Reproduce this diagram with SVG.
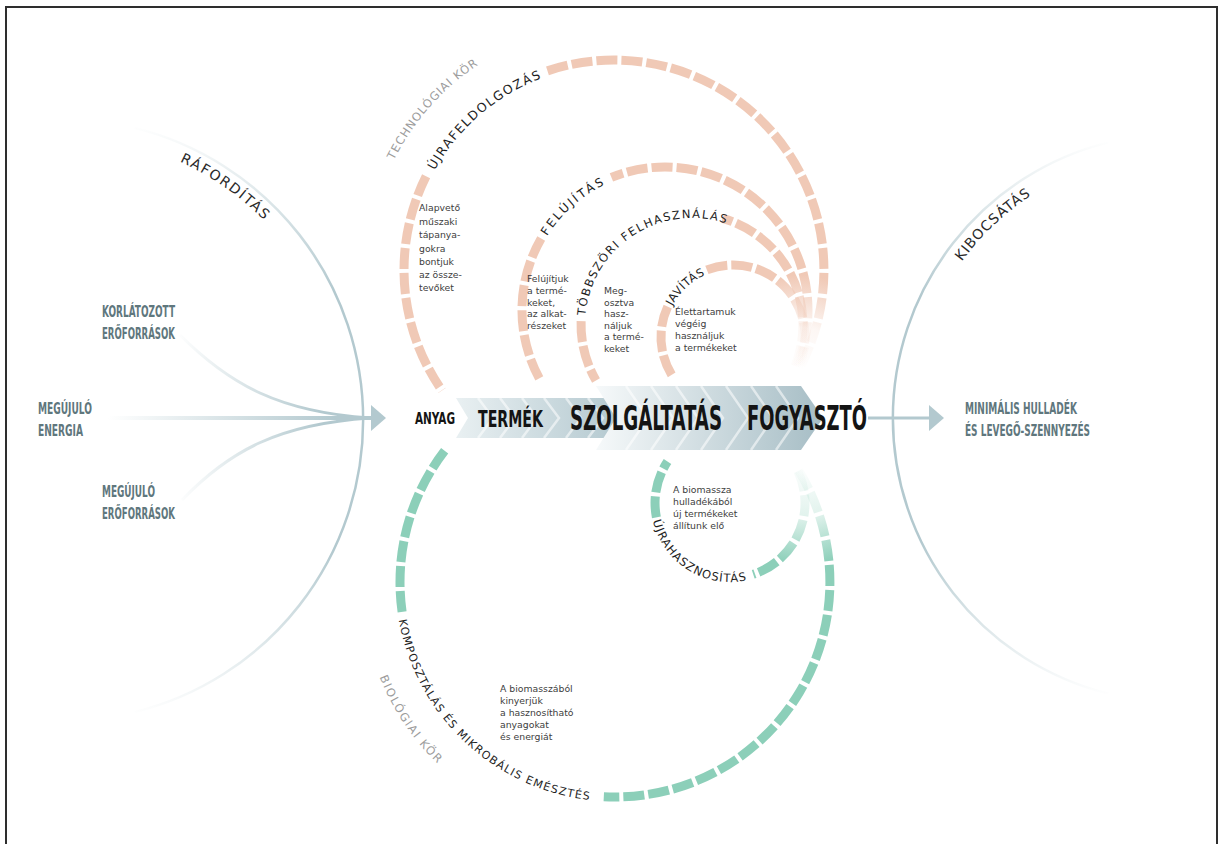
<svg xmlns="http://www.w3.org/2000/svg" width="1220" height="844" viewBox="0 0 1220 844">
<defs>
<style>
.cond{font-family:"DejaVu Sans Condensed","DejaVu Sans","Liberation Sans",sans-serif;font-weight:bold;}
.side{fill:#5f777d;font-size:15.5px;}
.main{fill:#141414;}
.arclbl{font-family:"DejaVu Sans","Liberation Sans",sans-serif;fill:#1e1e1e;}
.cyclbl{font-family:"DejaVu Sans","Liberation Sans",sans-serif;fill:#9c9c9c;font-size:11.5px;}
.iolbl{font-family:"DejaVu Sans","Liberation Sans",sans-serif;fill:#2a2a2a;font-size:14px;}
.desc{font-family:"DejaVu Sans","Liberation Sans",sans-serif;font-size:9.3px;fill:#404040;}
.tech{fill:none;stroke:url(#techFade);stroke-width:9;stroke-dasharray:21 4;}
.bio{fill:none;stroke:url(#bioFade);stroke-width:9;stroke-dasharray:21 4;}
.stripe{fill:none;stroke:#ffffff;stroke-width:2.5;stroke-opacity:0.55;}
</style>
<radialGradient id="techFade" gradientUnits="userSpaceOnUse" cx="800" cy="370" r="95">
<stop offset="0" stop-color="#f0c9b6" stop-opacity="0"/>
<stop offset="0.45" stop-color="#f0c9b6" stop-opacity="0.15"/>
<stop offset="1" stop-color="#f0c9b6" stop-opacity="1"/>
</radialGradient>
<radialGradient id="bioFade" gradientUnits="userSpaceOnUse" cx="805" cy="465" r="100">
<stop offset="0" stop-color="#8ccfb9" stop-opacity="0"/>
<stop offset="0.5" stop-color="#8ccfb9" stop-opacity="0.25"/>
<stop offset="1" stop-color="#8ccfb9" stop-opacity="1"/>
</radialGradient>
<linearGradient id="leftArcFade" gradientUnits="userSpaceOnUse" x1="0" y1="125" x2="0" y2="715">
<stop offset="0" stop-color="#b3c9cf" stop-opacity="0"/>
<stop offset="0.28" stop-color="#b3c9cf" stop-opacity="1"/>
<stop offset="0.72" stop-color="#b3c9cf" stop-opacity="1"/>
<stop offset="1" stop-color="#b3c9cf" stop-opacity="0"/>
</linearGradient>
<linearGradient id="rightArcFade" gradientUnits="userSpaceOnUse" x1="0" y1="140" x2="0" y2="696">
<stop offset="0" stop-color="#b3c9cf" stop-opacity="0"/>
<stop offset="0.28" stop-color="#b3c9cf" stop-opacity="1"/>
<stop offset="0.72" stop-color="#b3c9cf" stop-opacity="1"/>
<stop offset="1" stop-color="#b3c9cf" stop-opacity="0"/>
</linearGradient>
<linearGradient id="midFade" gradientUnits="userSpaceOnUse" x1="108" y1="0" x2="335" y2="0">
<stop offset="0" stop-color="#b3c9cf" stop-opacity="0"/>
<stop offset="1" stop-color="#b3c9cf" stop-opacity="1"/>
</linearGradient>
<linearGradient id="curveFade" gradientUnits="userSpaceOnUse" x1="176" y1="0" x2="320" y2="0">
<stop offset="0" stop-color="#b3c9cf" stop-opacity="0"/>
<stop offset="1" stop-color="#b3c9cf" stop-opacity="1"/>
</linearGradient>
<linearGradient id="barB" gradientUnits="userSpaceOnUse" x1="456" y1="0" x2="621" y2="0">
<stop offset="0" stop-color="#e9f0f2"/>
<stop offset="1" stop-color="#b3c8cf"/>
</linearGradient>
<linearGradient id="barC" gradientUnits="userSpaceOnUse" x1="596" y1="0" x2="823" y2="0">
<stop offset="0" stop-color="#f6f9fa"/>
<stop offset="1" stop-color="#a6bdc5"/>
</linearGradient>
<clipPath id="clipB"><polygon points="456,398 606,398 621,418 606,438 456,438 468,418"/></clipPath>
<clipPath id="clipC"><polygon points="596,386 801,386 823,418 801,450 596,450 616,418"/></clipPath>
<path id="tpRaf" d="M179.8,161.6 A284,284 0 0 1 319.4,300"/>
<path id="tpKib" d="M961.8,261.6 A266,266 0 0 1 1086,168"/>
<path id="tpTechKor" d="M393.9,160.2 A246,246 0 0 1 538,36"/>
<path id="tpUjra" d="M434.7,170.6 A205,205 0 0 1 578.4,68.1"/>
<path id="tpFel" d="M547.1,236.3 A139,139 0 0 1 640.9,173.1"/>
<path id="tpTobb" d="M585.4,315.7 A107,107 0 0 1 745.5,232.3"/>
<path id="tpJav" d="M672.4,306.1 A68,68 0 0 1 727.1,269.3"/>
<path id="tpKomp" d="M398.8,620.1 A219.5,219.5 0 0 0 634.1,800.7"/>
<path id="tpBioKor" d="M379.5,677.1 A254,254 0 0 0 488,802"/>
<path id="tpUjrah" d="M653,520.8 A79,79 0 0 0 790.5,553.8"/>
</defs>

<rect x="0" y="0" width="1220" height="844" fill="#ffffff"/>
<path d="M6,844 V7 H1217 V844" fill="none" stroke="#2e2e2e" stroke-width="2"/>

<g id="connectors">
  <path d="M134.8,127.9 A301,301 0 0 1 134.8,712.1" fill="none" stroke="url(#leftArcFade)" stroke-width="2.5"/>
  <path d="M1108.3,142.4 A284,284 0 0 0 1108.3,693.6" fill="none" stroke="url(#rightArcFade)" stroke-width="2.5"/>
  <path d="M108,418 H373" fill="none" stroke="url(#midFade)" stroke-width="4"/>
  <path d="M180,335 C230,385 280,412 370,418" fill="none" stroke="url(#curveFade)" stroke-width="3"/>
  <path d="M182,500 C230,450 280,424 370,418" fill="none" stroke="url(#curveFade)" stroke-width="3"/>
  <polygon points="371,405 386,418 371,431" fill="#b3c9cf"/>
  <path d="M868,418 H931" fill="none" stroke="#b3c9cf" stroke-width="3"/>
  <polygon points="929,405 944,418 929,431" fill="#b3c9cf"/>
  <path class="tech" d="M801.1,365.3 A210,210 0 0 0 543.9,72.1"/>
  <path class="tech" d="M426.1,176.3 A210,210 0 0 0 442,390.5"/>
  <path class="tech" d="M796.3,366.6 A143,143 0 0 0 611.4,177.4"/>
  <path class="tech" d="M541.2,238.5 A143,143 0 0 0 539.5,378.7"/>
  <path class="tech" d="M795.1,366.1 A111,111 0 0 0 722.6,218.3"/>
  <path class="tech" d="M581.1,321.1 A111,111 0 0 0 596,380.5"/>
  <path class="tech" d="M798.4,367.2 A72,72 0 0 0 706,270.2"/>
  <path class="tech" d="M667.7,306.6 A72,72 0 0 0 673.3,377.3"/>
  <path class="bio" d="M798.8,470.6 A215,215 0 0 1 603.8,796.7"/>
  <path class="bio" d="M402.1,611.9 A215,215 0 0 1 445.6,449.6"/>
  <path class="bio" d="M797.9,471.1 A75,75 0 0 1 753.2,574.3"/>
  <path class="bio" d="M656.4,517.3 A75,75 0 0 1 667.5,461.6"/>
</g>

<g id="flow-bar">
  <polygon points="456,398 606,398 621,418 606,438 456,438 468,418" fill="url(#barB)"/>
  <g clip-path="url(#clipB)">
    <polyline class="stripe" points="478,398 493,418 478,438"/>
    <polyline class="stripe" points="500,398 515,418 500,438"/>
    <polyline class="stripe" points="522,398 537,418 522,438"/>
    <polyline class="stripe" points="544,398 559,418 544,438"/>
    <polyline class="stripe" points="566,398 581,418 566,438"/>
    <polyline class="stripe" points="588,398 603,418 588,438"/>
  </g>
  <polygon points="596,386 801,386 823,418 801,450 596,450 616,418" fill="url(#barC)"/>
  <g clip-path="url(#clipC)">
    <polyline class="stripe" points="626,386 648,418 626,450"/>
    <polyline class="stripe" points="651,386 673,418 651,450"/>
    <polyline class="stripe" points="676,386 698,418 676,450"/>
    <polyline class="stripe" points="701,386 723,418 701,450"/>
    <polyline class="stripe" points="726,386 748,418 726,450"/>
    <polyline class="stripe" points="751,386 773,418 751,450"/>
    <polyline class="stripe" points="776,386 798,418 776,450"/>
  </g>
</g>

<g id="node-anyag"><text class="cond main" x="415" y="424" font-size="16" textLength="40" lengthAdjust="spacingAndGlyphs">ANYAG</text></g>
<g id="node-termek"><text class="cond main" x="478" y="427" font-size="23" textLength="65" lengthAdjust="spacingAndGlyphs">TERMÉK</text></g>
<g id="node-szolgaltatas"><text class="cond main" x="570" y="430" font-size="33" textLength="152" lengthAdjust="spacingAndGlyphs">SZOLGÁLTATÁS</text></g>
<g id="node-fogyaszto"><text class="cond main" x="747" y="430" font-size="33" textLength="120" lengthAdjust="spacingAndGlyphs">FOGYASZTÓ</text></g>

<g id="node-raforditas">
  <text class="iolbl" letter-spacing="1.6"><textPath href="#tpRaf">RÁFORDÍTÁS</textPath></text>
</g>
<g id="node-korlatozott">
  <text class="cond side" x="102" y="317" textLength="73" lengthAdjust="spacingAndGlyphs">KORLÁTOZOTT</text>
  <text class="cond side" x="102" y="339" textLength="73" lengthAdjust="spacingAndGlyphs">ERŐFORRÁSOK</text>
</g>
<g id="node-megujulo-energia">
  <text class="cond side" x="38" y="414" textLength="54" lengthAdjust="spacingAndGlyphs">MEGÚJULÓ</text>
  <text class="cond side" x="38" y="436" textLength="45" lengthAdjust="spacingAndGlyphs">ENERGIA</text>
</g>
<g id="node-megujulo-eroforrasok">
  <text class="cond side" x="102" y="497" textLength="53" lengthAdjust="spacingAndGlyphs">MEGÚJULÓ</text>
  <text class="cond side" x="102" y="519" textLength="73" lengthAdjust="spacingAndGlyphs">ERŐFORRÁSOK</text>
</g>

<g id="node-kibocsatas">
  <text class="iolbl" letter-spacing="1"><textPath href="#tpKib">KIBOCSÁTÁS</textPath></text>
</g>
<g id="node-minimalis">
  <text class="cond side" x="965" y="414" textLength="112" lengthAdjust="spacingAndGlyphs">MINIMÁLIS HULLADÉK</text>
  <text class="cond side" x="965" y="436" textLength="125" lengthAdjust="spacingAndGlyphs">ÉS LEVEGŐ-SZENNYEZÉS</text>
</g>

<g id="node-tech-kor">
  <text class="cyclbl" letter-spacing="0.9"><textPath href="#tpTechKor">TECHNOLÓGIAI KÖR</textPath></text>
</g>
<g id="node-ujrafeldolgozas">
  <text class="arclbl" font-size="12.5" letter-spacing="1.5"><textPath href="#tpUjra">ÚJRAFELDOLGOZÁS</textPath></text>
  <text class="desc" font-size="10.5"><tspan x="419" y="211">Alapvető</tspan><tspan x="419" y="224.5">műszaki</tspan><tspan x="419" y="238">tápanya-</tspan><tspan x="419" y="251.5">gokra</tspan><tspan x="419" y="265">bontjuk</tspan><tspan x="419" y="278">az össze-</tspan><tspan x="419" y="291">tevőket</tspan></text>
</g>
<g id="node-felujitas">
  <text class="arclbl" font-size="12" letter-spacing="2.4"><textPath href="#tpFel">FELÚJÍTÁS</textPath></text>
  <text class="desc"><tspan x="527" y="282">Felújítjuk</tspan><tspan x="527" y="293.8">a termé-</tspan><tspan x="527" y="305.6">keket,</tspan><tspan x="527" y="317.4">az alkat-</tspan><tspan x="527" y="329.2">részeket</tspan></text>
</g>
<g id="node-tobbszori">
  <text class="arclbl" font-size="11.5" letter-spacing="1.5"><textPath href="#tpTobb">TÖBBSZÖRI FELHASZNÁLÁS</textPath></text>
  <text class="desc" font-size="9.2"><tspan x="604" y="294">Meg-</tspan><tspan x="604" y="305.5">osztva</tspan><tspan x="604" y="317">hasz-</tspan><tspan x="604" y="328.5">náljuk</tspan><tspan x="604" y="340">a termé-</tspan><tspan x="604" y="351.5">keket</tspan></text>
</g>
<g id="node-javitas">
  <text class="arclbl" font-size="11.5" letter-spacing="0.5"><textPath href="#tpJav">JAVÍTÁS</textPath></text>
  <text class="desc"><tspan x="675" y="315">Élettartamuk</tspan><tspan x="675" y="327">végéig</tspan><tspan x="675" y="339">használjuk</tspan><tspan x="675" y="351">a termékeket</tspan></text>
</g>

<g id="node-bio-kor">
  <text class="cyclbl" font-size="11" letter-spacing="1.5"><textPath href="#tpBioKor">BIOLÓGIAI KÖR</textPath></text>
</g>
<g id="node-komposztalas">
  <text class="arclbl" font-size="11" letter-spacing="1.2"><textPath href="#tpKomp">KOMPOSZTÁLÁS ÉS MIKROBÁLIS EMÉSZTÉS</textPath></text>
  <text class="desc" font-size="9.6"><tspan x="500" y="692">A biomasszából</tspan><tspan x="500" y="704">kinyerjük</tspan><tspan x="500" y="716">a hasznosítható</tspan><tspan x="500" y="728">anyagokat</tspan><tspan x="500" y="740">és energiát</tspan></text>
</g>
<g id="node-ujrahasznositas">
  <text class="arclbl" font-size="11.5" letter-spacing="1"><textPath href="#tpUjrah">ÚJRAHASZNOSÍTÁS</textPath></text>
  <text class="desc"><tspan x="673" y="493">A biomassza</tspan><tspan x="673" y="505">hulladékából</tspan><tspan x="673" y="517">új termékeket</tspan><tspan x="673" y="529">állítunk elő</tspan></text>
</g>
</svg>
